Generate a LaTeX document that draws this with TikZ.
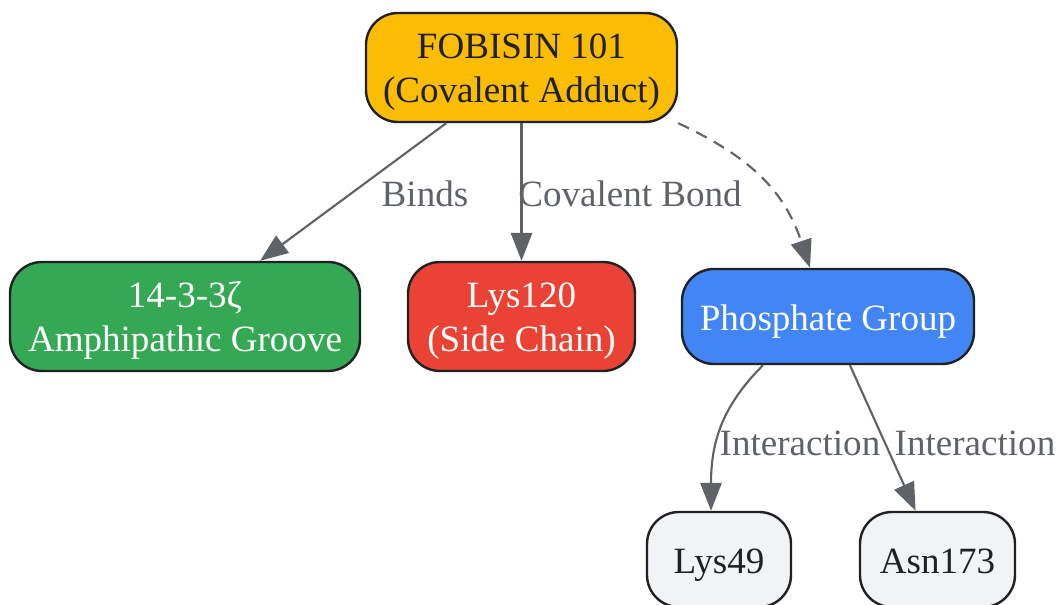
\documentclass[tikz,border=0pt]{standalone}
\usepackage{fontspec}
\setmainfont{Liberation Serif}
\usetikzlibrary{arrows.meta,calc}
\definecolor{bordc}{HTML}{202124}
\definecolor{edgec}{HTML}{5F6368}
\definecolor{cyellow}{HTML}{FBBC04}
\definecolor{cgreen}{HTML}{34A853}
\definecolor{cred}{HTML}{EA4335}
\definecolor{cblue}{HTML}{4285F4}
\definecolor{cgrey}{HTML}{F1F3F4}
\begin{document}
\begin{tikzpicture}[x=0.75pt,y=-0.75pt,
  box/.style={draw=bordc, line width=1.8pt, rounded corners=24pt, align=center, inner sep=0pt,
    font=\fontsize{27.8}{33}\selectfont,
    execute at begin node={\rule{0pt}{28.75pt}},
    execute at end node={\rule[-7pt]{0pt}{7pt}}},
  twoline/.style={execute at begin node={\rule{0pt}{61.8pt}},
    execute at end node={\rule[-10pt]{0pt}{10pt}}},
  edge/.style={draw=edgec, line width=1.6pt, -{Triangle[length=21pt,width=16pt]}},
  lbl/.style={text=edgec, inner sep=0pt, font=\fontsize{27.8}{33}\selectfont}
]
\useasboundingbox (0,0) rectangle (1057,605);
\node[box, twoline, fill=cyellow, text=bordc, minimum width=233.25pt, minimum height=81.75pt] (fob) at (521.5,67.5) {FOBISIN 101\\(Covalent Adduct)};
\node[box, twoline, fill=cgreen, text=white, minimum width=262.5pt, minimum height=81.75pt] (groove) at (185,316.5) {14-3-3ζ\\Amphipathic Groove};
\node[box, twoline, fill=cred, text=white, minimum width=170.25pt, minimum height=81.75pt] (lys120) at (521.5,316.5) {Lys120\\(Side Chain)};
\node[box, fill=cblue, text=white, minimum width=219pt, minimum height=71.25pt] (phos) at (828,316.5) {Phosphate Group};
\node[box, fill=cgrey, text=bordc, minimum width=108pt, minimum height=71.25pt] (lys49) at (719,559.5) {Lys49};
\node[box, fill=cgrey, text=bordc, minimum width=116.25pt, minimum height=71.25pt] (asn) at (937.5,559.5) {Asn173};

\draw[edge] (fob) -- (groove);
\draw[edge] (fob) -- (lys120);
\draw[edge, dashed, dash pattern=on 9pt off 6pt] (fob.south east) .. controls +(75,35) and +(-25,-75) .. ([xshift=-13.5pt]phos.north);
\draw[edge] ([xshift=-48.75pt]phos.south) .. controls +(-40,40) and +(0,-70) .. ([xshift=-6pt]lys49.north);
\draw[edge] (phos) -- (asn);

\node[lbl] (lb1) at (425,194) {Binds};
\node[lbl] (lb2) at (630,194) {Covalent Bond};
\node[lbl] (lb3) at (800,443) {Interaction};
\node[lbl] (lb4) at (975,443) {Interaction};
\end{tikzpicture}
\end{document}
